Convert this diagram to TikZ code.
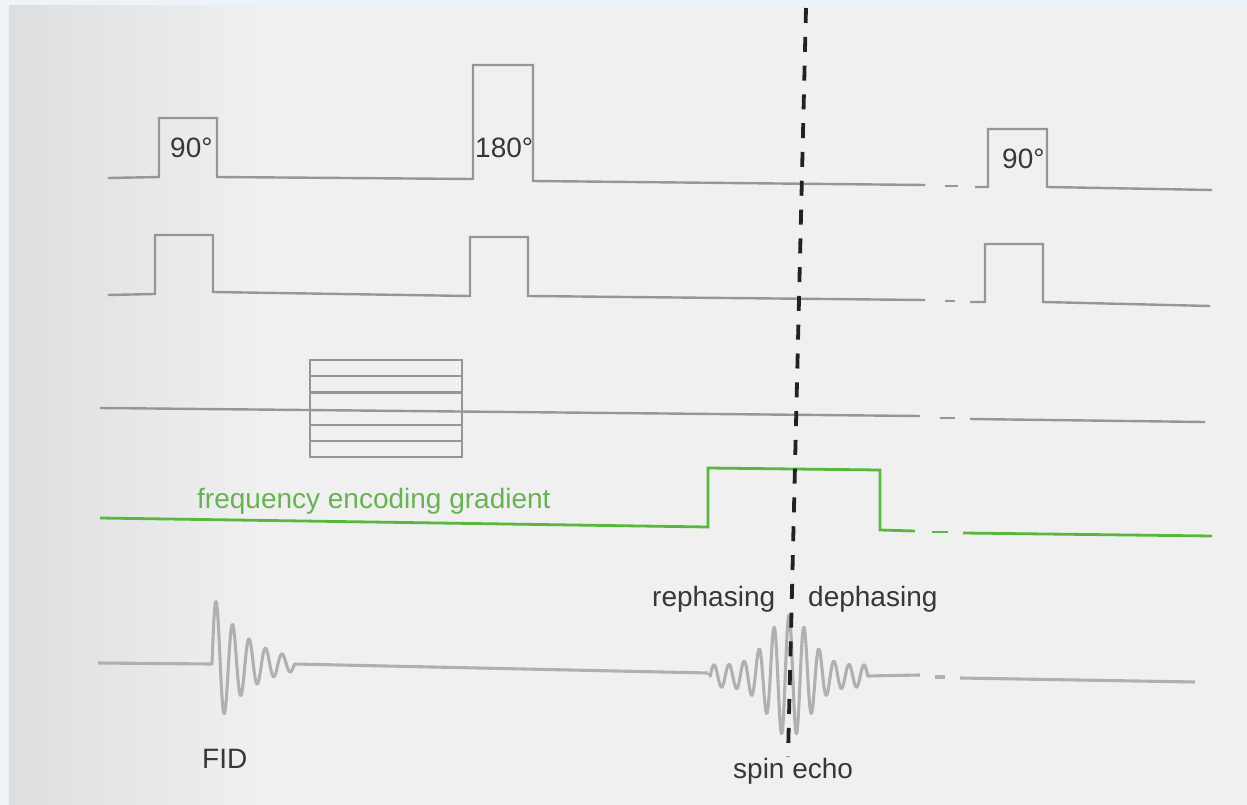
\documentclass[tikz,border=0pt]{standalone}
\usepackage{fontspec}
\setmainfont{Liberation Sans}
\definecolor{bgc}{RGB}{240,240,240}
\definecolor{bgl}{RGB}{221,222,224}
\definecolor{rim}{RGB}{238,243,248}
\definecolor{pulsec}{RGB}{150,150,154}
\definecolor{sigc}{RGB}{176,176,180}
\definecolor{greenl}{RGB}{88,184,62}
\definecolor{greent}{RGB}{104,178,84}
\definecolor{txtc}{RGB}{55,55,55}
\definecolor{dashc}{RGB}{34,34,34}
\tikzset{
  pulse/.style={draw=pulsec, line width=2.4pt, line join=miter},
  sig/.style={draw=sigc, line width=3.1pt, line join=round},
  grad/.style={draw=greenl, line width=2.8pt},
  lbl/.style={inner sep=0pt, anchor=base west, text=txtc, font=\fontsize{28}{32}\selectfont},
  glbl/.style={lbl, text=greent},
  echoline/.style={draw=dashc, line width=3.8pt, dash pattern=on 15pt off 13.8pt}
}
\begin{document}
\begin{tikzpicture}[x=1pt,y=-1pt]
\useasboundingbox (0,0) rectangle (1247,805);
% background
\fill[rim] (0,0) rectangle (1247,805);
\shade[left color=bgl, right color=bgc] (9,6) rectangle (260,805);
\fill[bgc] (260,6) rectangle (1247,805);

% row 1: RF pulses
\draw[pulse] (108,178) -- (159,177) -- (159,118) -- (217,118) -- (217,177) -- (473,179) -- (473,65) -- (533,65) -- (533,181) -- (925,185);
\draw[pulse] (945,186) -- (958,186);
\draw[pulse] (975,187) -- (988,187) -- (988,129) -- (1047,129) -- (1047,187) -- (1212,190);

% row 2: slice selection
\draw[pulse] (108,295) -- (155,294) -- (155,235) -- (213,235) -- (213,292) -- (470,296) -- (470,237) -- (528,237) -- (528,296) -- (925,300);
\draw[pulse] (945,301) -- (955,301);
\draw[pulse] (970,302) -- (985,302) -- (985,244) -- (1043,244) -- (1043,302) -- (1210,306);

% row 3: phase encoding
\draw[pulse] (100,408) -- (920,416);
\draw[pulse] (940,418) -- (955,418);
\draw[pulse] (970,419) -- (1205,422);
\draw[pulse] (310,360) rectangle (462,457);
\foreach \yy in {376.2,392.3,424.7,440.8}{
  \draw[pulse] (310,\yy) -- (462,\yy);
}

% row 4: frequency encoding gradient
\draw[grad] (100,518) -- (708,527) -- (708,468) -- (880,470) -- (880,530) -- (915,531);
\draw[grad] (932,532) -- (948,532);
\draw[grad] (963,533) -- (1212,536);

% row 5: signal
\draw[sig] (98,663) -- (212,664)
  -- plot[domain=0:82.5, samples=240] ({212+\x},{664-70*exp(-\x/36)*sin(\x*21.8182)})
  -- (708,673);
\draw[sig] (709,673) -- plot[domain=-78.75:78.75, samples=400]
  ({789+\x},{676-(11+50*exp(-(\x/28)*(\x/28)))*cos(\x*24)}) -- (920,675);
\draw[sig] (935,677) -- (945,677);
\draw[sig] (960,678) -- (1195,682);

% echo time line
\coordinate (etop) at (806,8);
\coordinate (ebot) at (788,757);
\draw[echoline] (etop) -- (ebot);

% labels
\node[lbl] (p90a) at (170,158) {90°};
\node[lbl] (p180) at (475,158) {180°};
\node[lbl] (p90b) at (1002,169) {90°};
\node[glbl] (freq) at (197,508) {frequency encoding gradient};
\node[lbl] (reph) at (652,606) {rephasing};
\node[lbl] (deph) at (808,606) {dephasing};
\node[lbl] (fid) at (202,768) {FID};
\node[lbl] (spin) at (733,778) {spin echo};
\end{tikzpicture}
\end{document}
